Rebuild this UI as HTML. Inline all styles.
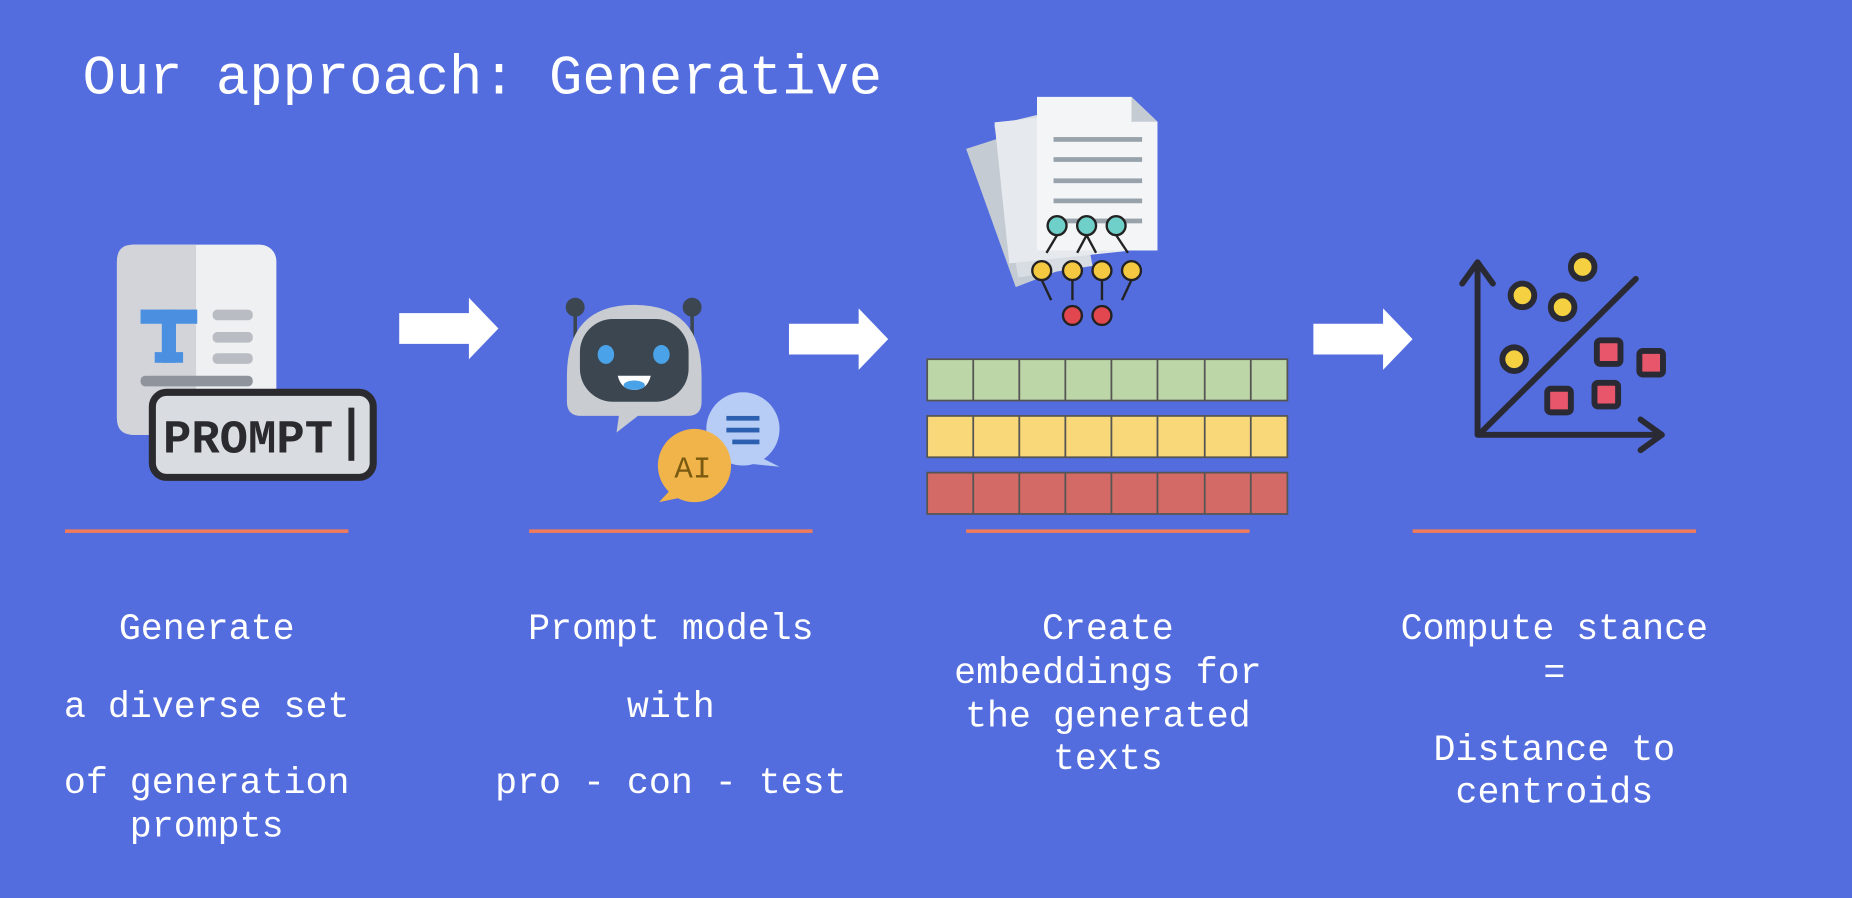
<!DOCTYPE html>
<html><head><meta charset="utf-8"><style>
html,body{margin:0;padding:0;background:#536dde;width:1852px;height:898px;overflow:hidden}
#w{width:1568px;height:760px;transform:scale(1.1811,1.1816);transform-origin:0 0}
text{font-family:"Liberation Mono",monospace;fill:#fff}
</style></head><body><div id="w">
<svg width="1568" height="760" viewBox="0 0 1568 760">
<rect width="1568" height="760" fill="#536dde"/>
<text x="70" y="79" font-size="47">Our approach: Generative</text>
<!-- orange lines -->
<g fill="#f07b5a"><rect x="55" y="448" width="240" height="3"/><rect x="448" y="448" width="240" height="3"/><rect x="818" y="448" width="240" height="3"/><rect x="1196" y="448" width="240" height="3"/></g>
<!-- arrows -->
<g fill="#fff">
<polygon points="338,265 397,265 397,252 422,278 397,304 397,291 338,291"/>
<polygon points="668,274 727,274 727,261 752,287 727,313 727,300 668,300"/>
<polygon points="1112,274 1171,274 1171,261 1196,287 1171,313 1171,300 1112,300"/>
</g>
<!-- doc icon -->
<rect x="99" y="207" width="135" height="161" rx="14" fill="#eef0f2"/>
<path d="M113,207 H166 V368 H113 Q99,368 99,354 V221 Q99,207 113,207Z" fill="#d2d4d9"/>
<rect x="119" y="262" width="48" height="12" fill="#4a8fe0"/><rect x="137" y="262" width="12" height="45" fill="#4a8fe0"/><rect x="131" y="298" width="24" height="9" fill="#4a8fe0"/>
<g fill="#b9bcc2"><rect x="180" y="262" width="34" height="9" rx="4"/><rect x="180" y="281" width="34" height="9" rx="4"/><rect x="180" y="299" width="34" height="9" rx="4"/><rect x="119" y="318" width="95" height="9" rx="4" fill="#8f949c"/></g>
<rect x="129" y="332" width="187" height="72" rx="12" fill="#d9dce1" stroke="#2b2b2f" stroke-width="6"/>
<text x="138" y="383" font-size="40" font-weight="bold" style="fill:#2b2b2f">PROMPT</text>
<rect x="295" y="345" width="5" height="45" fill="#2b2b2f"/>
<!-- robot -->
<line x1="487" y1="260" x2="487" y2="290" stroke="#3b4650" stroke-width="3"/><line x1="586" y1="260" x2="586" y2="290" stroke="#3b4650" stroke-width="3"/>
<circle cx="487" cy="260" r="8" fill="#3b4650"/><circle cx="586" cy="260" r="8" fill="#3b4650"/>
<path d="M480,318 Q480,258 537,258 Q594,258 594,318 V340 Q594,352 582,352 H540 L522,366 L524,352 H492 Q480,352 480,340Z" fill="#c9ccd1"/>
<rect x="491" y="270" width="92" height="70" rx="28" fill="#3b4650"/>
<ellipse cx="513" cy="300" rx="7" ry="8" fill="#4aa3e8"/><ellipse cx="560" cy="300" rx="7" ry="8" fill="#4aa3e8"/>
<path d="M523,318 H551 Q548,330 537,330 Q526,330 523,318Z" fill="#fff"/><ellipse cx="537" cy="326" rx="9" ry="4" fill="#4aa3e8"/>
<circle cx="629" cy="363" r="31" fill="#b8cdf5"/><polygon points="640,385 660,395 630,392" fill="#b8cdf5"/>
<g fill="#2d5fb0"><rect x="615" y="352" width="28" height="4"/><rect x="615" y="362" width="28" height="4"/><rect x="620" y="372" width="23" height="4"/></g>
<circle cx="588" cy="394" r="31" fill="#f0b44a"/><polygon points="570,412 558,425 582,420" fill="#f0b44a"/>
<text x="571" y="404" font-size="26" style="fill:#7a5a10">AI</text>
<!-- papers -->
<polygon points="818,126 880,106 920,220 860,243" fill="#c5cbd3"/>
<polygon points="842,106 900,92 925,225 862,235" fill="#d8dde3"/>
<rect x="848" y="98" width="100" height="120" fill="#e6eaee" transform="rotate(-6 898 158)"/>
<path d="M878,82 H958 L980,103 V212 H878Z" fill="#f3f5f7"/><polygon points="958,82 980,103 958,103" fill="#c5cbd3"/>
<g fill="#98a2ab"><rect x="892" y="116" width="75" height="4"/><rect x="892" y="133" width="75" height="4"/><rect x="892" y="151" width="75" height="4"/><rect x="892" y="168" width="75" height="4"/><rect x="892" y="185" width="75" height="4"/></g>
<g stroke="#222" stroke-width="2" fill="none"><path d="M895,199 L886,214 M920,199 L912,214 M920,199 L928,214 M945,199 L955,214 M882,237 L890,254 M908,237 L908,254 M933,237 L933,254 M958,237 L950,254"/></g>
<g stroke="#222" stroke-width="2"><circle cx="895" cy="191" r="8" fill="#6fd0c9"/><circle cx="920" cy="191" r="8" fill="#6fd0c9"/><circle cx="945" cy="191" r="8" fill="#6fd0c9"/>
<circle cx="882" cy="229" r="8" fill="#f5c842"/><circle cx="908" cy="229" r="8" fill="#f5c842"/><circle cx="933" cy="229" r="8" fill="#f5c842"/><circle cx="958" cy="229" r="8" fill="#f5c842"/>
<circle cx="908" cy="267" r="8" fill="#e2474f"/><circle cx="933" cy="267" r="8" fill="#e2474f"/></g>
<!-- grids -->
<g stroke="#555" stroke-width="1.5">
<rect x="785" y="304" width="305" height="35" fill="#bcd6a8"/>
<rect x="785" y="352" width="305" height="35" fill="#f8d878"/>
<rect x="785" y="400" width="305" height="35" fill="#d46a65"/>
<path d="M824,304V339M863,304V339M902,304V339M941,304V339M980,304V339M1020,304V339M1059,304V339 M824,352V387M863,352V387M902,352V387M941,352V387M980,352V387M1020,352V387M1059,352V387 M824,400V435M863,400V435M902,400V435M941,400V435M980,400V435M1020,400V435M1059,400V435"/>
</g>
<!-- plot -->
<g stroke="#2a2a35" stroke-width="5" fill="none" stroke-linecap="round" stroke-linejoin="round">
<path d="M1251,222 V368 H1407"/><path d="M1238,240 L1251,222 L1264,240"/><path d="M1389,355 L1407,368 L1389,381"/>
<path d="M1255,365 L1385,236"/>
</g>
<g stroke="#2a2a35" stroke-width="5" fill="#f5d142"><circle cx="1289" cy="250" r="10"/><circle cx="1323" cy="260" r="10"/><circle cx="1340" cy="226" r="10"/><circle cx="1282" cy="304" r="10"/></g>
<g stroke="#2a2a35" stroke-width="5" fill="#e8566c"><rect x="1352" y="288" width="20" height="20" rx="3"/><rect x="1388" y="297" width="20" height="20" rx="3"/><rect x="1310" y="329" width="20" height="20" rx="3"/><rect x="1350" y="324" width="20" height="20" rx="3"/></g>
<!-- labels -->
<g font-size="31" text-anchor="middle">
<text x="175" y="541">Generate</text><text x="175" y="607">a diverse set</text><text x="175" y="671">of generation</text><text x="175" y="708">prompts</text>
<text x="568" y="541">Prompt models</text><text x="568" y="607">with</text><text x="568" y="671">pro - con - test</text>
<text x="938" y="541">Create</text><text x="938" y="578">embeddings for</text><text x="938" y="615">the generated</text><text x="938" y="651">texts</text>
<text x="1316" y="541">Compute stance</text><text x="1316" y="578">=</text><text x="1316" y="643">Distance to</text><text x="1316" y="679">centroids</text>
</g>
</svg></div></body></html>
